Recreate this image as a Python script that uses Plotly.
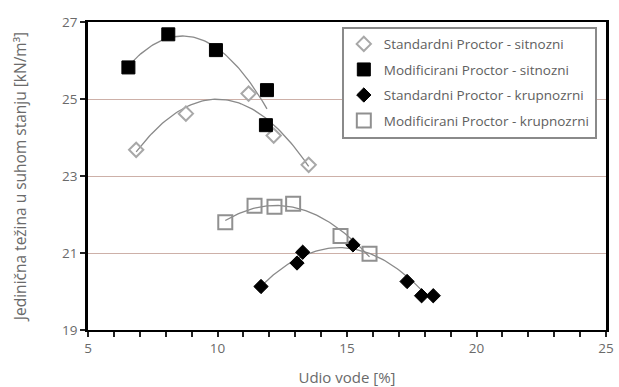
import numpy as np
import plotly.graph_objects as go

# Data
std_sit_x = [6.86, 8.78, 11.2, 12.17, 13.52]
std_sit_y = [23.68, 24.62, 25.14, 24.05, 23.29]

mod_sit_x = [6.56, 8.1, 9.94, 11.91, 11.87]
mod_sit_y = [25.82, 26.68, 26.27, 25.23, 24.32]

std_kru_x = [11.68, 13.07, 13.29, 15.23, 17.32, 17.88, 18.33]
std_kru_y = [20.13, 20.74, 21.02, 21.21, 20.26, 19.89, 19.89]

mod_kru_x = [10.3, 11.43, 12.2, 12.92, 14.75, 15.87]
mod_kru_y = [21.8, 22.23, 22.2, 22.28, 21.44, 20.98]

names = ["Standardni Proctor - sitnozni", "Modificirani Proctor - sitnozni",
         "Standardni Proctor - krupnozrni", "Modificirani Proctor - krupnozrni"]

x_ticks = [5, 10, 15, 20, 25]
y_ticks = [19, 21, 23, 25, 27]

GRAY_TXT = "#6a6a6a"
CURVE = "#8a8a8a"
FONT = "Open Sans"

fig = go.Figure()

def trend(xs, ys, x_end=None):
    c = np.polyfit(xs, ys, 2)
    x0 = min(xs)
    x1 = max(xs) if x_end is None else x_end
    xx = np.linspace(x0, x1, 80)
    return xx, np.polyval(c, xx)

# trendlines
for xs, ys, xe in [(std_sit_x, std_sit_y, None), (mod_sit_x, mod_sit_y, None),
                   (std_kru_x, std_kru_y, sorted(std_kru_x)[-2]), (mod_kru_x, mod_kru_y, None)]:
    xx, yy = trend(xs, ys, xe)
    fig.add_trace(go.Scatter(x=xx, y=yy, mode="lines", showlegend=False,
                             line=dict(color=CURVE, width=1.3), hoverinfo="skip"))

styles = [
    dict(symbol="diamond-open", color="#a8a8a8", size=11, line=dict(width=2, color="#a8a8a8")),
    dict(symbol="square", color="#000000", size=13, line=dict(width=1, color="#000000")),
    dict(symbol="diamond", color="#000000", size=11, line=dict(width=1, color="#000000")),
    dict(symbol="square-open", color="#909090", size=14, line=dict(width=2, color="#909090")),
]
data = [(std_sit_x, std_sit_y), (mod_sit_x, mod_sit_y), (std_kru_x, std_kru_y), (mod_kru_x, mod_kru_y)]
for i, ((xs, ys), st, nm) in enumerate(zip(data, styles, names)):
    fig.add_trace(go.Scatter(x=xs, y=ys, mode="markers", name=nm, legendgroup=f"g{i}",
                             marker=st))

fig.update_layout(
    width=619, height=387,
    margin=dict(l=88, r=13, t=22, b=57),
    paper_bgcolor="white", plot_bgcolor="white",
    font=dict(family=FONT, color=GRAY_TXT, size=12),
    legend=dict(x=0.49, y=0.985, xanchor="left", yanchor="top",
                bordercolor="#8a8a8a", borderwidth=2, bgcolor="white",
                font=dict(size=13.5, color="#606060"), tracegroupgap=5,
                traceorder="grouped", itemwidth=30),
    xaxis=dict(range=[5, 25], tickvals=x_ticks, showgrid=False, zeroline=False,
               showline=True, linecolor="black", linewidth=2, mirror=True,
               automargin=False,
               ticks="outside", ticklen=5, tickwidth=1.5, tickcolor="#222",
               minor=dict(dtick=1, ticks="outside", ticklen=5, tickwidth=1.5, tickcolor="#222"),
               tickfont=dict(size=13.5, color=GRAY_TXT),
               title=dict(text="Udio vode [%]", font=dict(size=15, color=GRAY_TXT), standoff=18)),
    yaxis=dict(range=[19, 27], tickvals=y_ticks, showgrid=True, gridcolor="#cdb0a8",
               gridwidth=1.2, zeroline=False,
               showline=True, linecolor="black", linewidth=2.5, mirror=True,
               automargin=False,
               ticks="outside", ticklen=5, tickwidth=1.5, tickcolor="#222",
               tickfont=dict(size=13.5, color=GRAY_TXT),
               title=dict(text="Jedinična težina u suhom stanju [kN/m³]",
                          font=dict(size=15.5, color=GRAY_TXT), standoff=32)),
)

fig.write_html("out.html")
